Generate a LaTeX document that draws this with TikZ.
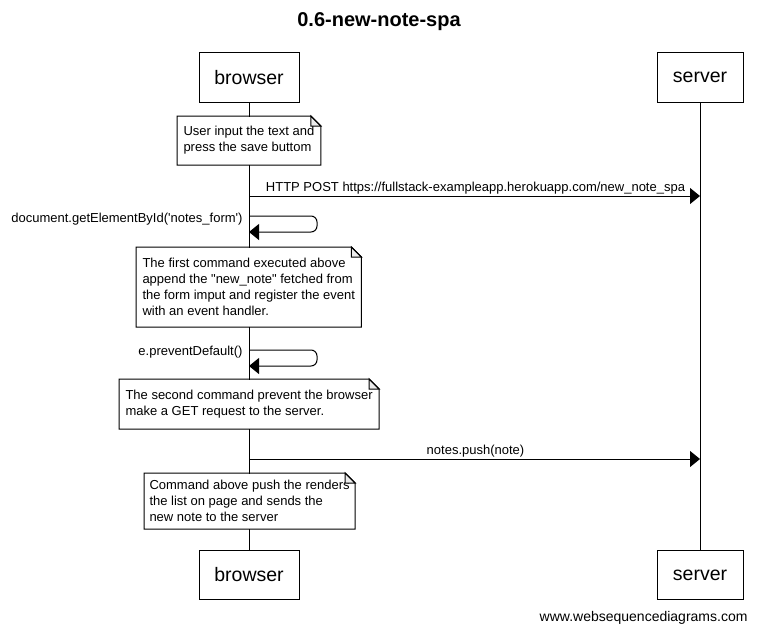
\documentclass[tikz,border=0pt]{standalone}
\usepackage{fontspec}
\setmainfont{Liberation Sans}[Ligatures=TeXOff]
\usetikzlibrary{arrows.meta}
\usetikzlibrary{positioning}

\begin{document}
\begin{tikzpicture}
  [x=1pt,y=-1pt,line width=1pt,
   actor/.style={draw,fill=white,minimum height=49pt,inner sep=0pt,font=\fontsize{19.5}{22}\selectfont},
   note/.style={fill=white,anchor=north west,align=left,inner xsep=6pt,inner ysep=0pt,font=\fontsize{13}{16}\selectfont},
   msg/.style={-{Triangle[length=10pt,width=16pt]}},
   txt/.style={inner sep=0pt,font=\fontsize{13}{16}\selectfont}]
  \useasboundingbox (0,0) rectangle (758,634);

  \node[font=\fontsize{20}{24}\selectfont\bfseries] (title) at (379,22) {0.6-new-note-spa};

  % actors
  \node[actor,minimum width=100pt] (b1) at (249,77.5) {browser};
  \node[actor,minimum width=86pt] (s1) at (700,77.5) {server};
  \node[actor,minimum width=100pt] (b2) at (249,575) {browser};
  \node[actor,minimum width=86pt] (s2) at (700,575) {server};
  \draw (b1) -- (b2);
  \draw (s1) -- (s2);

  % notes
  \node[note,minimum height=48pt] (note1) at (177,116)
    {User input the text and\\press the save buttom};
  \node[note,minimum height=79pt] (note2) at (136,247)
    {The first command executed above\\append the "new\_note" fetched from\\the form imput and register the event\\with an event handler.};
  \node[note,minimum height=49pt] (note3) at (119,379)
    {The second command prevent the browser\\make a GET request to the server.};
  \node[note,minimum height=55pt,inner xsep=5pt] (note4) at (144,473)
    {Command above push the renders\\the list on page and sends the\\new note to the server};
  \foreach \n in {note1,note2,note3,note4} {
    \draw[fill=gray!15] ([xshift=-10pt]\n.north east) |- ([yshift=-10pt]\n.north east) -- cycle;
    \draw (\n.north west) -- ([xshift=-10pt]\n.north east) -- ([yshift=-10pt]\n.north east) |- (\n.south west) -- cycle;
  }

  % messages
  \coordinate (p1) at (249,196);
  \coordinate (p2) at (700,196);
  \coordinate (c1a) at (249,216);
  \coordinate (c1b) at (249,232);
  \coordinate (c2a) at (249,350);
  \coordinate (c2b) at (249,366);
  \coordinate (q1) at (249,459);
  \coordinate (q2) at (700,459);
  \draw[msg] (p1) -- (p2);
  \draw[msg,rounded corners=6pt] (c1a) -- ++(68,0) |- (c1b);
  \draw[msg,rounded corners=6pt] (c2a) -- ++(68,0) |- (c2b);
  \draw[msg] (q1) -- (q2);

  \node[txt] (post) at (475.5,188) {HTTP POST https://fullstack-exampleapp.herokuapp.com/new\_note\_spa};
  \node[txt,anchor=east] (getel) at (243,219) {document.getElementById('notes\_form')};
  \node[txt,anchor=east] (prevent) at (243,352) {e.preventDefault()};
  \node[txt] (push) at (475.5,451) {notes.push(note)};

  \node[inner sep=0pt,anchor=east,font=\fontsize{14}{16}\selectfont] (footer) at (748,618) {www.websequencediagrams.com};
\end{tikzpicture}
\end{document}
